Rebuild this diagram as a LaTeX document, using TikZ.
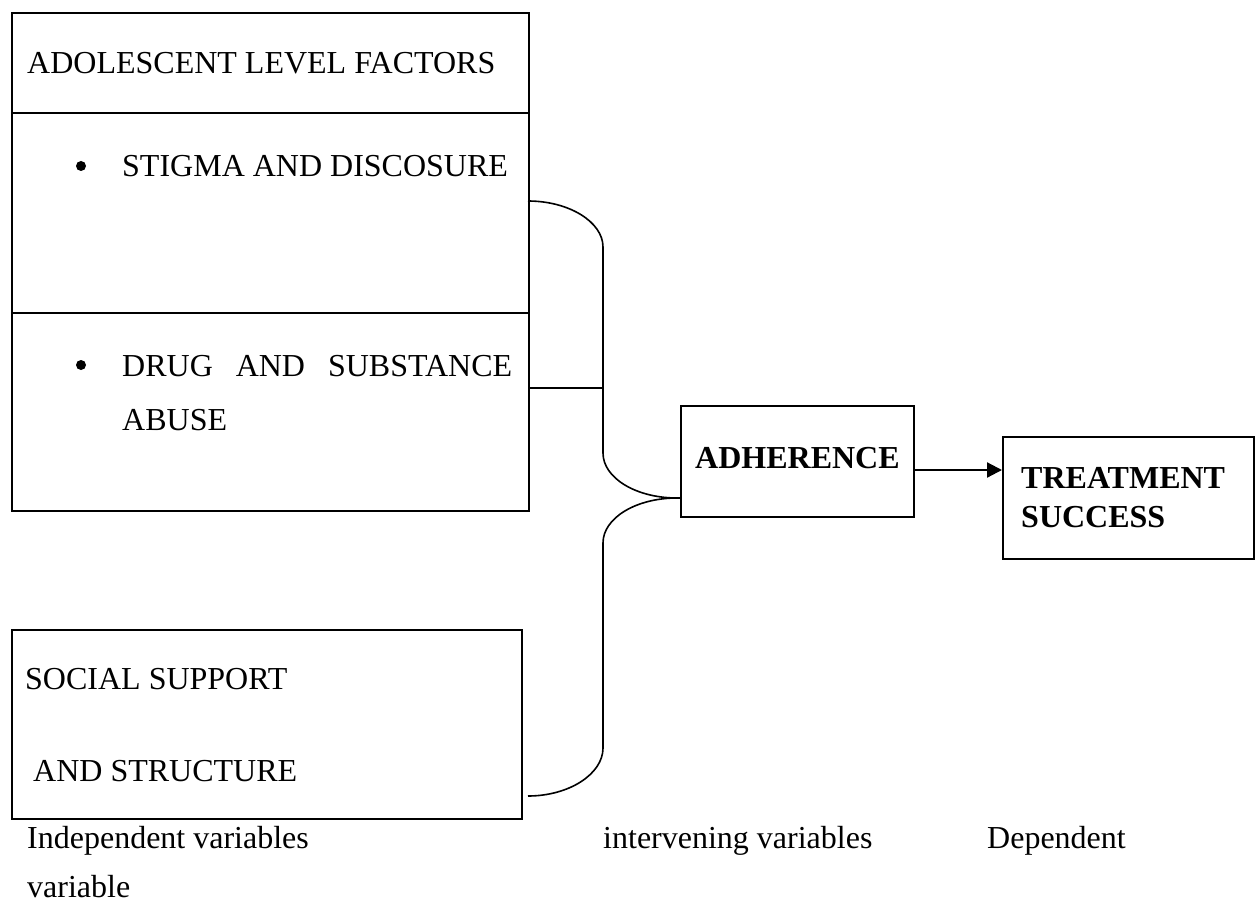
\documentclass[tikz,border=0pt]{standalone}
\usepackage{fontspec}
\setmainfont{Liberation Serif}
\usetikzlibrary{arrows.meta}

\tikzset{
  varbox/.style={draw, line width=1.8pt, anchor=north west, inner sep=0pt},
  boxtext/.style={anchor=base west, inner sep=0pt, font=\fontsize{32}{38}\selectfont},
  boldtext/.style={boxtext, font=\fontsize{32}{38}\selectfont\bfseries},
  bulletdot/.style={circle, fill, inner sep=0pt, minimum size=10pt},
  link/.style={line width=1.6pt}
}

\begin{document}
\begin{tikzpicture}[x=1pt,y=-1pt]
    \useasboundingbox (0,0) rectangle (1255,904);
    % boxes
    \node [varbox, minimum width=517pt, minimum height=498pt] (adol) at (11,12) {};
    \node [varbox, minimum width=510pt, minimum height=189pt] (social) at (11,629) {};
    \node [varbox, minimum width=233pt, minimum height=111pt] (adh) at (680,405) {};
    \node [varbox, minimum width=251pt, minimum height=122pt] (treat) at (1002,436) {};
    \coordinate (div1) at (11,113);
    \coordinate (div2) at (11,313);
    \draw [line width=1.8pt] (div1) -- (div1 -| adol.east);
    \draw [line width=1.8pt] (div2) -- (div2 -| adol.east);
    % texts in the boxes
    \node [boxtext] (hdr) at (27,74) {ADOLESCENT LEVEL FACTORS};
    \node [bulletdot] (dot1) at (81,166) {};
    \node [boxtext] (stigma) at (122,177) {STIGMA AND DISCOSURE};
    \node [bulletdot] (dot2) at (81,365) {};
    \node [boxtext] (drug) at (122,376) {\makebox[390pt][s]{DRUG AND SUBSTANCE}};
    \node [boxtext] (abuse) at (122,430) {ABUSE};
    \node [boxtext] (soc1) at (25,689) {SOCIAL SUPPORT};
    \node [boxtext] (soc2) at (33,781) {AND STRUCTURE};
    \node [boldtext] (adhtxt) at (695,468) {ADHERENCE};
    \node [boldtext] (tr1) at (1021,488) {TREATMENT};
    \node [boldtext] (tr2) at (1021,527) {SUCCESS};
    % brace
    \coordinate (armtop) at (528,201);
    \coordinate (armlow) at (528,796);
    \coordinate (stub) at (604,388);
    \coordinate (tip) at (677,498);
    \draw [link] (armtop) .. controls (569,201) and (603,222) .. (603,247) -- (603,453)
        .. controls (603,478) and (636,498) .. (tip);
    \draw [link] (tip) .. controls (636,498) and (603,518) .. (603,543) -- (603,748)
        .. controls (603,774) and (569,796) .. (armlow);
    \draw [link] (adol.east |- stub) -- (stub);
    \draw [link] (tip) -- (tip -| adh.west);
    % arrow
    \coordinate (row) at (0,470);
    \draw [line width=2.2pt, -{Triangle[length=15pt,width=15pt]}] (adh.east |- row) -- (treat.west |- row);
    % labels under the picture
    \node [boxtext] (indep) at (27,848) {Independent variables};
    \node [boxtext] (interv) at (603,848) {intervening variables};
    \node [boxtext] (dep) at (987,848) {Dependent};
    \node [boxtext] (var) at (27,897) {variable};
\end{tikzpicture}
\end{document}
